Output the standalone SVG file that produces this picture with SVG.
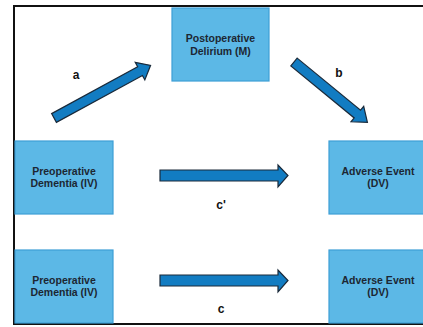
<svg xmlns="http://www.w3.org/2000/svg" width="423" height="327" viewBox="0 0 423 327">
<style>
.box{fill:#5cb8e6;stroke:#3d9ed6;stroke-width:1.2}
.t{font-family:"Liberation Sans",Arial,sans-serif;font-weight:bold;font-size:10.5px;fill:#1c2733;text-anchor:middle}
.lbl{font-family:"Liberation Sans",Arial,sans-serif;font-weight:bold;font-size:12px;fill:#111;text-anchor:middle}
.arr{fill:#127cc2;stroke:#1a2a3a;stroke-width:1.2;stroke-linejoin:miter}
</style>
<rect x="0" y="0" width="423" height="327" fill="#fff"/>
<path d="M423,6 H14 V324 H423" fill="none" stroke="#111" stroke-width="2"/>
<g id="mediator"><rect class="box" x="172" y="8" width="97" height="73"/><text class="t" x="220.5" y="42">Postoperative</text><text class="t" x="220.5" y="55">Delirium (M)</text></g>
<g id="iv1"><rect class="box" x="15" y="141" width="98" height="73"/><text class="t" x="64" y="174.5">Preoperative</text><text class="t" x="64" y="187">Dementia (IV)</text></g>
<g id="dv1"><rect class="box" x="329" y="141" width="96" height="73"/><text class="t" x="378" y="174.5">Adverse Event</text><text class="t" x="378" y="187">(DV)</text></g>
<g id="iv2"><rect class="box" x="15" y="250" width="98" height="73"/><text class="t" x="64" y="283.5">Preoperative</text><text class="t" x="64" y="296">Dementia (IV)</text></g>
<g id="dv2"><rect class="box" x="329" y="250" width="96" height="73"/><text class="t" x="378" y="283.5">Adverse Event</text><text class="t" x="378" y="296">(DV)</text></g>
<g id="connectors">
<path class="arr" transform="translate(54,118) rotate(-28.6)" d="M0,-5 H98 V-10 L110,0 L98,10 V5 H0 Z"/>
<path class="arr" transform="translate(294,62) rotate(39.4)" d="M0,-5 H82 V-10 L95,0 L82,10 V5 H0 Z"/>
<path class="arr" d="M160,170 H278 V165 L288,175.5 L278,187 V181 H160 Z"/>
<path class="arr" d="M160,275 H278 V270 L288,280.5 L278,292 V286 H160 Z"/>
<text class="lbl" x="76" y="79">a</text>
<text class="lbl" x="339" y="77">b</text>
<text class="lbl" x="221" y="209">c'</text>
<text class="lbl" x="221" y="313">c</text>
</g>
</svg>
